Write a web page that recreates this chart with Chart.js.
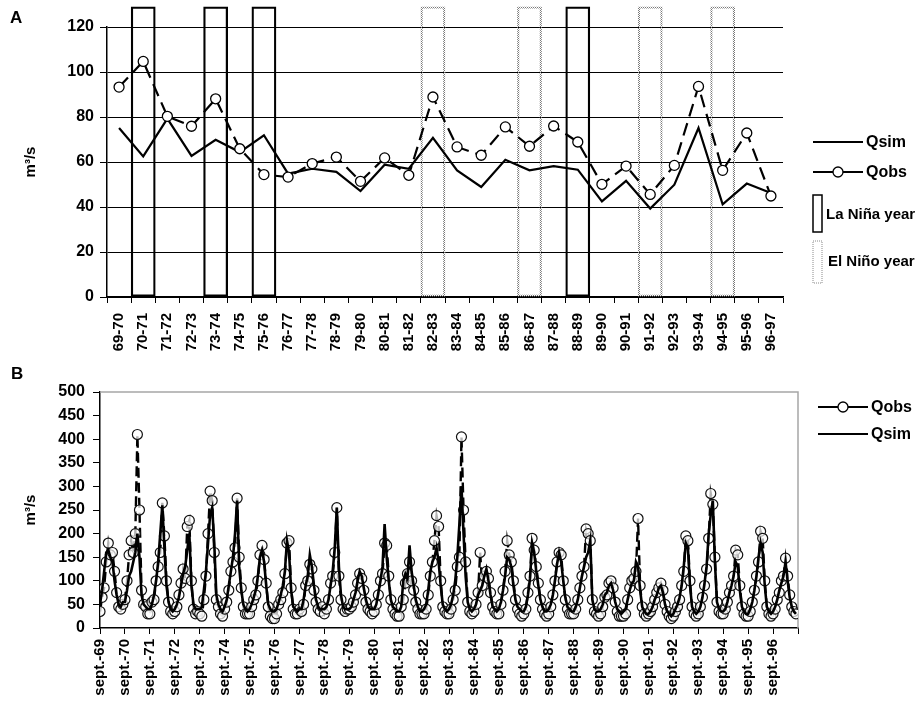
<!DOCTYPE html>
<html>
<head>
<meta charset="utf-8">
<script src="https://cdn.jsdelivr.net/npm/chart.js@4.4.1/dist/chart.umd.min.js"></script>
<style>
  html, body { margin: 0; padding: 0; background: #fff; }
  #wrap { position: relative; width: 917px; height: 712px; overflow: hidden; }
  canvas { position: absolute; left: 0; }
  #chartA { top: 0; }
  #chartB { top: 340px; }
  .tag { position: absolute; font: bold 17px "Liberation Sans", Arial, sans-serif; color: #000; }
</style>
</head>
<body>
<div id="wrap">
  <canvas id="chartA" width="917" height="372"></canvas>
  <canvas id="chartB" width="917" height="372"></canvas>
  <div class="tag" style="left:10px;top:8px">A</div>
  <div class="tag" style="left:11px;top:364px">B</div>
</div>
<script>
// ---- panel A : mean annual discharge per hydrological year ----
const seasons = ['69-70', '70-71', '71-72', '72-73', '73-74', '74-75', '75-76', '76-77', '77-78', '78-79',
  '79-80', '80-81', '81-82', '82-83', '83-84', '84-85', '85-86', '86-87', '87-88', '88-89',
  '89-90', '90-91', '91-92', '92-93', '93-94', '94-95', '95-96', '96-97'];

const qsimAnnual = [75.1, 62.5, 79.3, 62.7, 69.9, 64.4, 71.9, 54.8, 57.0, 55.6,
  47.1, 58.8, 57.0, 70.7, 56.3, 48.9, 61.0, 56.3, 58.2, 56.6,
  42.5, 51.6, 39.3, 49.9, 75.1, 41.2, 50.4, 46.2];
const qobsAnnual = [93.3, 104.7, 80.3, 75.9, 88.1, 65.9, 54.4, 53.3, 59.3, 62.2,
  51.4, 61.8, 54.1, 88.9, 66.7, 63.0, 75.6, 67.0, 76.0, 68.9,
  50.1, 58.2, 45.6, 58.5, 93.6, 56.3, 72.9, 44.9];

const laNinaYears = ['70-71', '73-74', '75-76', '88-89'];
const elNinoYears = ['82-83', '86-87', '91-92', '94-95'];
const ensoBarTop = 129;

// ---- panel B : monthly discharge, sept. 1969 - aug. 1997 ----
const yearTicks = ['sept.-69', 'sept.-70', 'sept.-71', 'sept.-72', 'sept.-73', 'sept.-74', 'sept.-75',
  'sept.-76', 'sept.-77', 'sept.-78', 'sept.-79', 'sept.-80', 'sept.-81', 'sept.-82', 'sept.-83',
  'sept.-84', 'sept.-85', 'sept.-86', 'sept.-87', 'sept.-88', 'sept.-89', 'sept.-90', 'sept.-91',
  'sept.-92', 'sept.-93', 'sept.-94', 'sept.-95', 'sept.-96'];

const qobsMonthly = [
  35, 65, 85, 140, 180, 155, 160, 120, 75, 45, 40, 50,     // 69-70
  60, 100, 155, 185, 160, 200, 410, 250, 80, 50, 45, 30,   // 70-71
  30, 55, 60, 100, 130, 160, 265, 195, 100, 55, 35, 30,    // 71-72
  35, 45, 70, 95, 125, 105, 215, 228, 100, 40, 30, 35,     // 72-73
  30, 25, 60, 110, 200, 290, 270, 160, 60, 45, 30, 25,     // 73-74
  40, 55, 80, 120, 140, 170, 275, 150, 85, 45, 30, 30,     // 74-75
  30, 45, 60, 70, 100, 155, 175, 145, 95, 45, 25, 20,      // 75-76
  20, 30, 50, 60, 75, 115, 180, 185, 85, 40, 30, 30,       // 76-77
  40, 35, 50, 90, 100, 135, 125, 80, 55, 40, 35, 45,       // 77-78
  30, 40, 60, 95, 110, 160, 255, 110, 60, 40, 35, 40,      // 78-79
  40, 45, 55, 70, 95, 115, 105, 80, 55, 40, 35, 30,        // 79-80
  35, 50, 70, 100, 115, 180, 175, 110, 60, 40, 30, 25,     // 80-81
  25, 45, 60, 95, 115, 140, 100, 80, 55, 40, 30, 30,       // 81-82
  30, 40, 70, 110, 140, 185, 238, 215, 100, 45, 35, 30,    // 82-83
  30, 40, 60, 80, 130, 150, 405, 250, 140, 55, 35, 30,     // 83-84
  35, 50, 75, 160, 90, 110, 120, 105, 75, 45, 35, 30,      // 84-85
  30, 50, 80, 120, 185, 155, 140, 100, 60, 40, 30, 25,     // 85-86
  30, 40, 75, 110, 190, 165, 130, 95, 60, 40, 30, 25,      // 86-87
  30, 45, 70, 100, 140, 160, 155, 100, 60, 40, 30, 30,     // 87-88
  30, 40, 60, 85, 110, 130, 210, 200, 185, 60, 35, 30,     // 88-89
  25, 30, 45, 65, 70, 95, 100, 85, 55, 35, 25, 25,         // 89-90
  25, 30, 60, 85, 100, 105, 120, 232, 90, 45, 30, 25,      // 90-91
  30, 35, 45, 60, 75, 85, 95, 80, 50, 35, 25, 20,          // 91-92
  25, 35, 45, 60, 90, 120, 195, 185, 100, 45, 30, 25,      // 92-93
  30, 45, 65, 90, 125, 190, 285, 262, 150, 55, 35, 30,     // 93-94
  30, 40, 55, 75, 90, 110, 165, 155, 90, 45, 30, 25,       // 94-95
  25, 35, 55, 80, 110, 140, 205, 190, 100, 45, 30, 25,     // 95-96
  30, 40, 60, 75, 100, 110, 148, 110, 70, 45, 35, 30       // 96-97
];

const qsimMonthly = [
  50, 80, 120, 160, 165, 150, 140, 100, 70, 50, 45, 55,    // 69-70
  55, 80, 110, 120, 140, 160, 200, 150, 70, 50, 45, 40,    // 70-71
  40, 50, 70, 100, 140, 200, 260, 170, 90, 55, 40, 35,     // 71-72
  40, 50, 65, 90, 115, 130, 165, 200, 90, 50, 40, 40,      // 72-73
  40, 45, 80, 120, 180, 240, 255, 180, 70, 50, 40, 35,     // 73-74
  45, 60, 90, 120, 150, 200, 270, 130, 80, 50, 40, 35,     // 74-75
  40, 50, 65, 80, 110, 150, 165, 140, 90, 50, 40, 35,      // 75-76
  35, 40, 55, 70, 90, 120, 185, 160, 80, 45, 40, 35,       // 76-77
  40, 40, 60, 90, 110, 155, 130, 90, 60, 45, 40, 40,       // 77-78
  40, 45, 60, 90, 120, 170, 255, 130, 70, 45, 40, 40,      // 78-79
  40, 45, 60, 75, 100, 120, 110, 85, 60, 45, 40, 40,       // 79-80
  40, 50, 75, 100, 130, 220, 150, 100, 60, 45, 40, 35,     // 80-81
  35, 45, 100, 115, 105, 175, 120, 90, 60, 45, 35, 35,     // 81-82
  40, 50, 80, 120, 140, 150, 170, 140, 90, 50, 40, 35,     // 82-83
  40, 50, 70, 100, 150, 220, 300, 200, 110, 55, 40, 35,    // 83-84
  40, 50, 70, 80, 90, 110, 125, 100, 70, 45, 40, 35,       // 84-85
  40, 55, 80, 110, 150, 145, 130, 90, 60, 45, 40, 35,      // 85-86
  35, 45, 70, 105, 180, 160, 120, 90, 60, 45, 35, 35,      // 86-87
  40, 50, 70, 100, 135, 160, 140, 100, 65, 45, 40, 35,     // 87-88
  35, 45, 60, 85, 110, 130, 150, 160, 185, 60, 40, 35,     // 88-89
  35, 40, 50, 70, 75, 90, 95, 80, 55, 40, 35, 30,          // 89-90
  35, 40, 60, 80, 95, 100, 140, 130, 80, 45, 35, 30,       // 90-91
  30, 35, 45, 60, 70, 85, 90, 75, 50, 35, 30, 25,          // 91-92
  30, 40, 50, 65, 90, 130, 180, 170, 90, 45, 35, 30,       // 92-93
  35, 45, 65, 95, 130, 200, 240, 270, 140, 55, 40, 35,     // 93-94
  35, 40, 55, 75, 90, 110, 140, 130, 80, 45, 35, 30,       // 94-95
  30, 40, 55, 80, 110, 150, 180, 160, 90, 45, 35, 30,      // 95-96
  35, 45, 60, 80, 95, 110, 140, 100, 65, 45, 35, 30        // 96-97
];

const FONT = '"Liberation Sans", Arial, sans-serif';
const tickFont = { family: FONT, weight: 'bold', size: 16 };
const labelFont = { family: FONT, weight: 'bold', size: 15 };

// dotted grey outline for the El Niño boxes (bar borders are filled, so use a pattern)
const dotCanvas = document.createElement('canvas');
dotCanvas.width = 2;
dotCanvas.height = 2;
const dotCtx = dotCanvas.getContext('2d');
dotCtx.fillStyle = '#7a7a7a';
dotCtx.fillRect(0, 0, 1, 1);
dotCtx.fillRect(1, 1, 1, 1);
const dotPattern = dotCtx.createPattern(dotCanvas, 'repeat');

function drawLegendLine(c, x, y, withMarker) {
    c.strokeStyle = '#000';
    c.lineWidth = 2;
    c.setLineDash([]);
    c.beginPath();
    c.moveTo(x, y);
    c.lineTo(x + 50, y);
    c.stroke();
    if (withMarker) {
        c.beginPath();
        c.arc(x + 25, y, 5, 0, Math.PI * 2);
        c.fillStyle = '#fff';
        c.fill();
        c.lineWidth = 1.3;
        c.stroke();
    }
}

const legendA = {
    id: 'legendA',
    afterDraw(chart) {
        const c = chart.ctx;
        const ds = chart.data.datasets;
        c.save();
        c.textBaseline = 'middle';
        c.font = 'bold 16px ' + FONT;
        drawLegendLine(c, 813, 142, false);
        c.fillStyle = '#000';
        c.fillText(ds[0].label, 866, 143);
        drawLegendLine(c, 813, 172, true);
        c.fillStyle = '#000';
        c.fillText(ds[1].label, 866, 173);

        c.lineWidth = 1.5;
        c.strokeStyle = '#000';
        c.strokeRect(813, 195, 9, 37);
        c.font = 'bold 15px ' + FONT;
        c.fillText(ds[2].label, 826, 215);

        c.lineWidth = 1;
        c.strokeStyle = '#8a8a8a';
        c.setLineDash([1, 1]);
        c.strokeRect(813, 241, 9, 42);
        c.setLineDash([]);
        c.fillText(ds[3].label, 828, 262);
        c.restore();
    }
};

new Chart(document.getElementById('chartA'), {
    data: {
        labels: seasons,
        datasets: [
            {
                type: 'line', label: 'Qsim', data: qsimAnnual,
                borderColor: '#000', borderWidth: 2.2, pointRadius: 0, tension: 0, order: 1
            },
            {
                type: 'line', label: 'Qobs', data: qobsAnnual,
                borderColor: '#000', borderWidth: 2.2, borderDash: [13, 7], tension: 0,
                pointRadius: 5, pointBackgroundColor: '#fff', pointBorderColor: '#000', pointBorderWidth: 1.3,
                order: 0
            },
            {
                type: 'bar', label: 'La Niña year',
                data: seasons.map(s => laNinaYears.includes(s) ? ensoBarTop : null),
                backgroundColor: 'rgba(0,0,0,0)', borderColor: '#000', borderWidth: 1.6, borderSkipped: false,
                barPercentage: 1, categoryPercentage: 1, grouped: false, clip: false, order: 3
            },
            {
                type: 'bar', label: 'El Niño year',
                data: seasons.map(s => elNinoYears.includes(s) ? ensoBarTop : null),
                backgroundColor: 'rgba(0,0,0,0)', borderColor: dotPattern, borderWidth: 1.5, borderSkipped: false,
                barPercentage: 1, categoryPercentage: 1, grouped: false, clip: false, order: 4
            }
        ]
    },
    options: {
        responsive: false,
        animation: false,
        devicePixelRatio: 1,
        layout: { padding: { top: 27, right: 134, left: 0, bottom: 0 } },
        plugins: { legend: { display: false }, tooltip: { enabled: false } },
        scales: {
            x: {
                type: 'category',
                offset: true,
                grid: { offset: true, drawOnChartArea: false, tickLength: 6, color: '#000' },
                border: { color: '#000', width: 1.5 },
                ticks: { color: '#000', font: labelFont, minRotation: 90, maxRotation: 90, autoSkip: false, padding: 10 },
                afterFit: (s) => { s.height = 75; }
            },
            y: {
                min: 0, max: 120,
                ticks: { stepSize: 20, color: '#000', font: tickFont, padding: 6 },
                grid: { color: '#000', lineWidth: 1, tickLength: 7 },
                border: { color: '#000', width: 1.5 },
                title: { display: true, text: 'm³/s', color: '#000', font: labelFont, padding: { top: 22, bottom: 0 } },
                afterFit: (s) => { s.width = 107; }
            }
        }
    },
    plugins: [legendA]
});

const legendB = {
    id: 'legendB',
    afterDraw(chart) {
        const c = chart.ctx;
        const ds = chart.data.datasets;
        c.save();
        c.textBaseline = 'middle';
        c.font = 'bold 16px ' + FONT;
        drawLegendLine(c, 818, 67, true);
        c.fillStyle = '#000';
        c.fillText(ds[0].label, 871, 68);
        drawLegendLine(c, 818, 94, false);
        c.fillStyle = '#000';
        c.fillText(ds[1].label, 871, 95);
        c.restore();
    }
};

const frameB = {
    id: 'frameB',
    beforeDatasetsDraw(chart) {
        const a = chart.chartArea;
        const c = chart.ctx;
        c.save();
        c.strokeStyle = '#a6a6a6';
        c.lineWidth = 1.5;
        c.beginPath();
        c.moveTo(a.left, a.top);
        c.lineTo(a.right, a.top);
        c.lineTo(a.right, a.bottom);
        c.stroke();
        c.restore();
    }
};

new Chart(document.getElementById('chartB'), {
    type: 'line',
    data: {
        datasets: [
            {
                label: 'Qobs', data: qobsMonthly.map((v, i) => ({ x: i, y: v })),
                borderColor: '#000', borderWidth: 2.4, borderDash: [10, 5], tension: 0,
                pointRadius: 5, pointBackgroundColor: 'rgba(255,255,255,0.7)', pointBorderColor: '#111', pointBorderWidth: 1.2,
                order: 1
            },
            {
                label: 'Qsim', data: qsimMonthly.map((v, i) => ({ x: i, y: v })),
                borderColor: '#000', borderWidth: 2.6, pointRadius: 0, tension: 0, order: 0
            }
        ]
    },
    options: {
        responsive: false,
        animation: false,
        devicePixelRatio: 1,
        layout: { padding: { top: 52, right: 119, left: 0, bottom: 0 } },
        plugins: { legend: { display: false }, tooltip: { enabled: false } },
        scales: {
            x: {
                type: 'linear', min: 0, max: yearTicks.length * 12,
                grid: { drawOnChartArea: false, tickLength: 6, color: '#000' },
                border: { color: '#000', width: 1.5 },
                ticks: {
                    stepSize: 12, autoSkip: false, color: '#000', font: labelFont,
                    minRotation: 90, maxRotation: 90, padding: 5,
                    callback: (v) => yearTicks[v / 12] || ''
                },
                afterFit: (s) => { s.height = 84; }
            },
            y: {
                min: 0, max: 500,
                ticks: { stepSize: 50, color: '#000', font: tickFont, padding: 8 },
                grid: { drawOnChartArea: false, tickLength: 7, color: '#000' },
                border: { color: '#000', width: 1.5 },
                title: { display: true, text: 'm³/s', color: '#000', font: labelFont, padding: { top: 22, bottom: 0 } },
                afterFit: (s) => { s.width = 100; }
            }
        }
    },
    plugins: [frameB, legendB]
});
</script>
</body>
</html>
